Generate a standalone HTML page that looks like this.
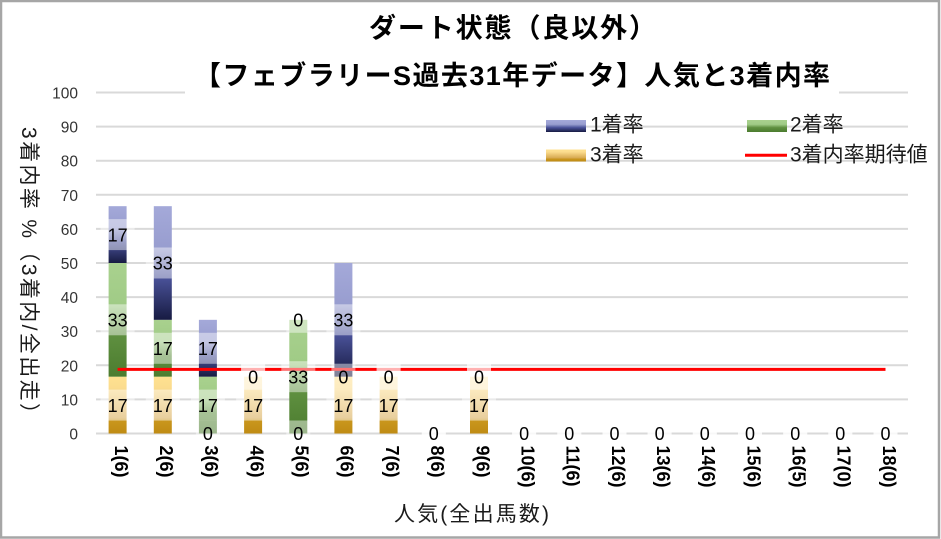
<!DOCTYPE html>
<html>
<head>
<meta charset="utf-8">
<style>
html,body{margin:0;padding:0;background:#fff;}
svg{display:block;}
text{font-family:"Liberation Sans","Noto Sans CJK JP",sans-serif;}
</style>
</head>
<body>
<svg width="941" height="539" viewBox="0 0 941 539" xmlns="http://www.w3.org/2000/svg">
<defs>
<linearGradient id="gB" x1="0" y1="0" x2="0" y2="1">
<stop offset="0" stop-color="#a4a9d9"/><stop offset="0.37" stop-color="#989dcf"/><stop offset="0.63" stop-color="#4a5299"/><stop offset="1" stop-color="#171b42"/>
</linearGradient>
<linearGradient id="gG" x1="0" y1="0" x2="0" y2="1">
<stop offset="0" stop-color="#a9d18e"/><stop offset="0.37" stop-color="#a0cb86"/><stop offset="0.63" stop-color="#5f9040"/><stop offset="1" stop-color="#4c7c2f"/>
</linearGradient>
<linearGradient id="gY" x1="0" y1="0" x2="0" y2="1">
<stop offset="0" stop-color="#ffe190"/><stop offset="0.2" stop-color="#fbdc8e"/><stop offset="0.72" stop-color="#d6a84f"/><stop offset="0.78" stop-color="#c9961d"/><stop offset="1" stop-color="#bf8b14"/>
</linearGradient>
</defs>
<rect x="0" y="0" width="941" height="539" fill="#fff"/>
<!-- gridlines -->
<g stroke="#d9d9d9" stroke-width="2">
<line x1="96" y1="92.5" x2="185" y2="92.5"/><line x1="839" y1="92.5" x2="908" y2="92.5"/>
<line x1="96" y1="126.6" x2="908" y2="126.6"/>
<line x1="96" y1="160.7" x2="908" y2="160.7"/>
<line x1="96" y1="194.8" x2="908" y2="194.8"/>
<line x1="96" y1="228.9" x2="908" y2="228.9"/>
<line x1="96" y1="263" x2="908" y2="263"/>
<line x1="96" y1="297.1" x2="908" y2="297.1"/>
<line x1="96" y1="331.2" x2="908" y2="331.2"/>
<line x1="96" y1="365.3" x2="908" y2="365.3"/>
<line x1="96" y1="399.4" x2="908" y2="399.4"/>
<line x1="96" y1="433.5" x2="908" y2="433.5"/>
</g>
<!-- y tick labels -->
<g font-size="15.5" fill="#333" text-anchor="end">
<text x="78" y="98.5">100</text>
<text x="78" y="132.6">90</text>
<text x="78" y="166.7">80</text>
<text x="78" y="200.8">70</text>
<text x="78" y="234.9">60</text>
<text x="78" y="269">50</text>
<text x="78" y="303.1">40</text>
<text x="78" y="337.2">30</text>
<text x="78" y="371.3">20</text>
<text x="78" y="405.4">10</text>
<text x="78" y="439.5">0</text>
</g>
<!-- bars -->
<g>
<rect x="108.6" y="376.67" width="18" height="56.83" fill="url(#gY)"/>
<rect x="108.6" y="263" width="18" height="113.67" fill="url(#gG)"/>
<rect x="108.6" y="206.17" width="18" height="56.83" fill="url(#gB)"/>

<rect x="153.8" y="376.67" width="18" height="56.83" fill="url(#gY)"/>
<rect x="153.8" y="319.83" width="18" height="56.84" fill="url(#gG)"/>
<rect x="153.8" y="206.17" width="18" height="113.66" fill="url(#gB)"/>

<rect x="198.9" y="376.67" width="18" height="56.83" fill="url(#gG)"/>
<rect x="198.9" y="319.83" width="18" height="56.84" fill="url(#gB)"/>

<rect x="244.1" y="376.67" width="18" height="56.83" fill="url(#gY)"/>

<rect x="289.3" y="319.83" width="18" height="113.67" fill="url(#gG)"/>

<rect x="334.4" y="376.67" width="18" height="56.83" fill="url(#gY)"/>
<rect x="334.4" y="263" width="18" height="113.67" fill="url(#gB)"/>

<rect x="379.6" y="376.67" width="18" height="56.83" fill="url(#gY)"/>

<rect x="470" y="376.67" width="18" height="56.83" fill="url(#gY)"/>
</g>
<!-- expected line -->
<line x1="117.6" y1="369.4" x2="885.5" y2="369.4" stroke="#ff0000" stroke-width="3"/>
<!-- label boxes -->
<g fill="#fff" fill-opacity="0.45">
<!-- bar1 -->
<rect x="100.6" y="389.6" width="34" height="31"/>
<rect x="100.6" y="304.3" width="34" height="31"/>
<rect x="100.6" y="219.1" width="34" height="31"/>
<!-- bar2 -->
<rect x="145.8" y="389.6" width="34" height="31"/>
<rect x="145.8" y="332.8" width="34" height="31"/>
<rect x="145.8" y="247.5" width="34" height="31"/>
<!-- bar3 -->
<rect x="195.9" y="420.5" width="24" height="26"/>
<rect x="190.9" y="389.6" width="34" height="31"/>
<rect x="190.9" y="332.8" width="34" height="31"/>
<!-- bar4 -->
<rect x="236.1" y="389.6" width="34" height="31"/>
<rect x="241.1" y="363.7" width="24" height="26"/>
<rect x="241.1" y="363.7" width="24" height="26"/>
<!-- bar5 -->
<rect x="286.3" y="420.5" width="24" height="26"/>
<rect x="281.3" y="361.2" width="34" height="31"/>
<rect x="286.3" y="306.8" width="24" height="26"/>
<!-- bar6 -->
<rect x="326.4" y="389.6" width="34" height="31"/>
<rect x="331.4" y="363.7" width="24" height="26"/>
<rect x="326.4" y="304.3" width="34" height="31"/>
<!-- bar7 -->
<rect x="371.6" y="389.6" width="34" height="31"/>
<rect x="376.6" y="363.7" width="24" height="26"/>
<rect x="376.6" y="363.7" width="24" height="26"/>
<!-- bar8 -->
<rect x="421.8" y="420.5" width="24" height="26"/>
<rect x="421.8" y="420.5" width="24" height="26"/>
<rect x="421.8" y="420.5" width="24" height="26"/>
<!-- bar9 -->
<rect x="462" y="389.6" width="34" height="31"/>
<rect x="467" y="363.7" width="24" height="26"/>
<rect x="467" y="363.7" width="24" height="26"/>
<!-- bars 10-18 -->
<rect x="512.1" y="420.5" width="24" height="26"/><rect x="512.1" y="420.5" width="24" height="26"/><rect x="512.1" y="420.5" width="24" height="26"/>
<rect x="557.3" y="420.5" width="24" height="26"/><rect x="557.3" y="420.5" width="24" height="26"/><rect x="557.3" y="420.5" width="24" height="26"/>
<rect x="602.5" y="420.5" width="24" height="26"/><rect x="602.5" y="420.5" width="24" height="26"/><rect x="602.5" y="420.5" width="24" height="26"/>
<rect x="647.6" y="420.5" width="24" height="26"/><rect x="647.6" y="420.5" width="24" height="26"/><rect x="647.6" y="420.5" width="24" height="26"/>
<rect x="692.8" y="420.5" width="24" height="26"/><rect x="692.8" y="420.5" width="24" height="26"/><rect x="692.8" y="420.5" width="24" height="26"/>
<rect x="738" y="420.5" width="24" height="26"/><rect x="738" y="420.5" width="24" height="26"/><rect x="738" y="420.5" width="24" height="26"/>
<rect x="783.2" y="420.5" width="24" height="26"/><rect x="783.2" y="420.5" width="24" height="26"/><rect x="783.2" y="420.5" width="24" height="26"/>
<rect x="828.3" y="420.5" width="24" height="26"/><rect x="828.3" y="420.5" width="24" height="26"/><rect x="828.3" y="420.5" width="24" height="26"/>
<rect x="873.5" y="420.5" width="24" height="26"/><rect x="873.5" y="420.5" width="24" height="26"/><rect x="873.5" y="420.5" width="24" height="26"/>
</g>
<!-- label texts -->
<g font-size="18" fill="#000" text-anchor="middle">
<text x="117.6" y="411.8">17</text><text x="117.6" y="326.5">33</text><text x="117.6" y="241.3">17</text>
<text x="162.8" y="411.8">17</text><text x="162.8" y="355">17</text><text x="162.8" y="269.7">33</text>
<text x="207.9" y="440.2">0</text><text x="207.9" y="411.8">17</text><text x="207.9" y="355">17</text>
<text x="253.1" y="411.8">17</text><text x="253.1" y="383.4">0</text>
<text x="298.3" y="440.2">0</text><text x="298.3" y="383.4">33</text><text x="298.3" y="326.5">0</text>
<text x="343.4" y="411.8">17</text><text x="343.4" y="383.4">0</text><text x="343.4" y="326.5">33</text>
<text x="388.6" y="411.8">17</text><text x="388.6" y="383.4">0</text>
<text x="433.8" y="440.2">0</text>
<text x="479" y="411.8">17</text><text x="479" y="383.4">0</text>
<text x="524.1" y="440.2">0</text>
<text x="569.3" y="440.2">0</text>
<text x="614.5" y="440.2">0</text>
<text x="659.6" y="440.2">0</text>
<text x="704.8" y="440.2">0</text>
<text x="750" y="440.2">0</text>
<text x="795.2" y="440.2">0</text>
<text x="840.3" y="440.2">0</text>
<text x="885.5" y="440.2">0</text>
</g>
<!-- x tick labels -->
<g font-size="18" font-weight="bold" fill="#000">
<text transform="translate(117.6,445.5) rotate(90)" x="0" y="2.7">1(6)</text>
<text transform="translate(162.8,445.5) rotate(90)" x="0" y="2.7">2(6)</text>
<text transform="translate(207.9,445.5) rotate(90)" x="0" y="2.7">3(6)</text>
<text transform="translate(253.1,445.5) rotate(90)" x="0" y="2.7">4(6)</text>
<text transform="translate(298.3,445.5) rotate(90)" x="0" y="2.7">5(6)</text>
<text transform="translate(343.4,445.5) rotate(90)" x="0" y="2.7">6(6)</text>
<text transform="translate(388.6,445.5) rotate(90)" x="0" y="2.7">7(6)</text>
<text transform="translate(433.8,445.5) rotate(90)" x="0" y="2.7">8(6)</text>
<text transform="translate(479,445.5) rotate(90)" x="0" y="2.7">9(6)</text>
<text transform="translate(524.1,445.5) rotate(90)" x="0" y="2.7">10(6)</text>
<text transform="translate(569.3,445.5) rotate(90)" x="0" y="2.7">11(6)</text>
<text transform="translate(614.5,445.5) rotate(90)" x="0" y="2.7">12(6)</text>
<text transform="translate(659.6,445.5) rotate(90)" x="0" y="2.7">13(6)</text>
<text transform="translate(704.8,445.5) rotate(90)" x="0" y="2.7">14(6)</text>
<text transform="translate(750,445.5) rotate(90)" x="0" y="2.7">15(6)</text>
<text transform="translate(795.2,445.5) rotate(90)" x="0" y="2.7">16(5)</text>
<text transform="translate(840.3,445.5) rotate(90)" x="0" y="2.7">17(0)</text>
<text transform="translate(885.5,445.5) rotate(90)" x="0" y="2.7">18(0)</text>
</g>
<!-- axis titles -->
<text x="394" y="521" font-size="21" fill="#1a1a1a" textLength="155" lengthAdjust="spacing">人気(全出馬数)</text>
<text transform="translate(30,127) rotate(90)" x="0" y="8" font-size="21" fill="#1a1a1a" textLength="297" lengthAdjust="spacing">3着内率 %（3着内/全出走）</text>
<!-- title -->
<text x="369" y="37.5" font-size="27" font-weight="bold" fill="#000" textLength="287" lengthAdjust="spacing">ダート状態（良以外）</text>
<text x="194" y="85" font-size="27" font-weight="bold" fill="#000" textLength="636" lengthAdjust="spacing">【フェブラリーS過去31年データ】人気と3着内率</text>
<!-- legend -->
<rect x="546" y="120" width="40" height="12" fill="url(#gB)"/>
<text x="590" y="131.5" font-size="21" fill="#1a1a1a">1着率</text>
<rect x="747" y="120" width="40" height="12" fill="url(#gG)"/>
<text x="790" y="131.5" font-size="21" fill="#1a1a1a">2着率</text>
<rect x="546" y="149.5" width="40" height="12" fill="url(#gY)"/>
<text x="590" y="161.5" font-size="21" fill="#1a1a1a">3着率</text>
<line x1="745" y1="155.3" x2="787" y2="155.3" stroke="#ff0000" stroke-width="3"/>
<text x="790" y="161.5" font-size="21" fill="#1a1a1a">3着内率期待値</text>
<!-- frame -->
<rect x="1" y="1" width="938" height="536.5" fill="none" stroke="#a6a6a6" stroke-width="2.5"/>
</svg>
</body>
</html>
